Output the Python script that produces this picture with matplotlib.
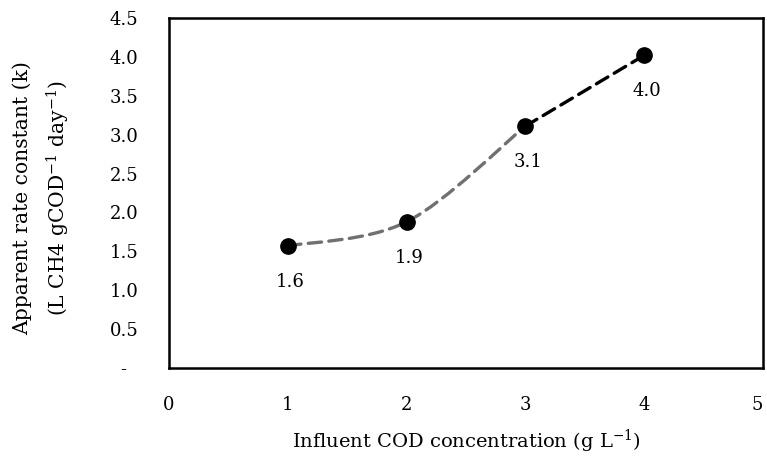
import matplotlib
matplotlib.use("Agg")
import matplotlib.pyplot as plt
from matplotlib.path import Path
from matplotlib.patches import PathPatch

# Dados
cod_influente = [1, 2, 3, 4]
k_aparente = [1.57, 1.88, 3.11, 4.02]
rotulos_k = [f"{v:.1f}" for v in k_aparente]
xticks = [0, 1, 2, 3, 4, 5]
yticks = [0, 0.5, 1.0, 1.5, 2.0, 2.5, 3.0, 3.5, 4.0, 4.5]
ytick_labels = ["-  "] + [f"{v:.1f}" for v in yticks[1:]]

plt.rcParams["font.family"] = ["DejaVu Serif"]
plt.rcParams["mathtext.fontset"] = "custom"
plt.rcParams["mathtext.rm"] = "DejaVu Serif"


def curva_suave(xs, ys):
    """Curva de Bezier estilo Excel (Catmull-Rom) passando pelos pontos."""
    pts = list(zip(xs, ys))
    n = len(pts)
    verts = [pts[0]]
    codes = [Path.MOVETO]
    for i in range(n - 1):
        p0 = pts[max(i - 1, 0)]
        p1 = pts[i]
        p2 = pts[i + 1]
        p3 = pts[min(i + 2, n - 1)]
        c1 = (p1[0] + (p2[0] - p0[0]) / 6, p1[1] + (p2[1] - p0[1]) / 6)
        c2 = (p2[0] - (p3[0] - p1[0]) / 6, p2[1] - (p3[1] - p1[1]) / 6)
        verts += [c1, c2, p2]
        codes += [Path.CURVE4] * 3
    return Path(verts, codes)


fig = plt.figure(figsize=(7.67, 4.57), dpi=100)
ax = fig.add_axes([0.2203, 0.1947, 0.7745, 0.7659])

# Série 1 (1 a 3 g/L) - cinza tracejada suavizada
ax.add_patch(PathPatch(curva_suave(cod_influente[:3], k_aparente[:3]), fill=False,
                       edgecolor="#707070", linewidth=2.4, linestyle=(0, (4, 2.2)),
                       capstyle="round", zorder=2))
# Série 2 (3 a 4 g/L) - preta tracejada
ax.add_patch(PathPatch(curva_suave(cod_influente[2:], k_aparente[2:]), fill=False,
                       edgecolor="black", linewidth=2.4, linestyle=(0, (4, 2.2)),
                       capstyle="round", zorder=2))

ax.plot(cod_influente, k_aparente, "o", color="black", markersize=11, zorder=3)

for x, y, txt in zip(cod_influente, k_aparente, rotulos_k):
    ax.annotate(txt, (x, y), xytext=(2, -26), textcoords="offset points",
                ha="center", va="center", fontsize=13)

ax.set_xlim(0, 5)
ax.set_ylim(0, 4.5)
ax.set_xticks(xticks)
ax.set_xticklabels([str(v) for v in xticks])
ax.set_yticks(yticks)
ax.set_yticklabels(ytick_labels)
ax.tick_params(axis="both", length=0, labelsize=13)
ax.tick_params(axis="y", pad=22)
ax.tick_params(axis="x", pad=20)
ax.get_xticklabels()[-1].set_horizontalalignment("right")
ax.get_xticklabels()[-1].set_x(5.03)

for s in ax.spines.values():
    s.set_linewidth(1.8)
    s.set_color("black")

ax.set_xlabel(r"Influent COD concentration (g L$\mathregular{^{-1}}$)", fontsize=14, labelpad=10)
fig.text(42 / 767, 1 - 198 / 457,
         "Apparent rate constant (k)\n"
         r"(L CH4 gCOD$\mathregular{^{-1}}$ day$\mathregular{^{-1}}$)",
         rotation=90, ha="center", va="center", multialignment="center",
         fontsize=14.6, linespacing=1.6)

plt.savefig("out.png", dpi=100)
plt.close()
